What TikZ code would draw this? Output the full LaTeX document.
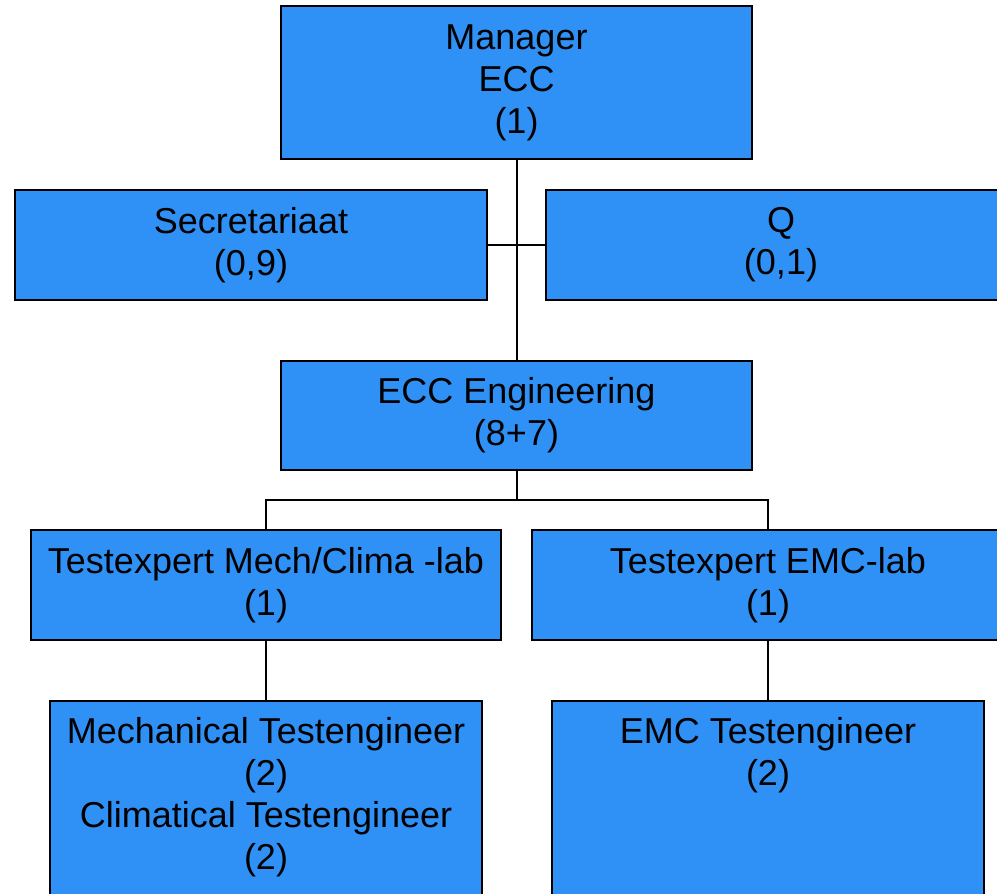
\documentclass[tikz,border=0pt]{standalone}
\usepackage{fontspec}
\setmainfont{Liberation Sans}
\usepackage{tikz}

\definecolor{boxblue}{RGB}{47,145,245}

\begin{document}
\begin{tikzpicture}[x=1pt, y=-1pt,
		unit/.style={draw=black, line width=2pt, fill=boxblue, inner sep=0pt,
			align=center, font=\fontsize{36}{42}\selectfont},
		link/.style={line width=2pt}]
			\clip (0, 0) rectangle (997, 894);
			\fill[white] (0, 0) rectangle (997, 894);
			% top level
			\node[unit, minimum width=471, minimum height=153] (mgr) at (516.5, 82.5) {Manager\\ECC\\(1)};
			\node[unit, minimum width=472, minimum height=110] (sec) at (251, 245) {Secretariaat\\(0,9)};
			\node[unit, minimum width=470, minimum height=110] (q) at (781, 245) {Q\\(0,1)};
			\node[unit, minimum width=471, minimum height=109] (eng) at (516.5, 415.5) {ECC Engineering\\(8+7)};
			% labs
			\node[unit, minimum width=470, minimum height=110] (mech) at (266, 585) {Testexpert Mech/Clima -lab\\(1)};
			\node[unit, minimum width=472, minimum height=110] (emc) at (768, 585) {Testexpert EMC-lab\\(1)};
			% engineers
			\node[unit, minimum width=432, minimum height=236, anchor=north] (mte) at (266, 700) {\strut Mechanical Testengineer\\(2)\\Climatical Testengineer\\(2)\\\strut};
			\node[unit, minimum width=432, minimum height=236, anchor=north] (ete) at (768, 700) {\strut EMC Testengineer\\(2)\\\strut\\\strut\\\strut};
			% connectors
			\coordinate (hub) at (mgr.south |- sec.east);
			\coordinate (fork) at (516.5, 500);
			\draw[link] (mgr.south) -- (eng.north);
			\draw[link] (sec.east) -- (hub) -- (q.west);
			\draw[link] (eng.south) -- (fork);
			\draw[link] (mech.north) |- (fork) -| (emc.north);
			\draw[link] (mech.south) -- (mte.north);
			\draw[link] (emc.south) -- (ete.north);
		\end{tikzpicture}
\end{document}
